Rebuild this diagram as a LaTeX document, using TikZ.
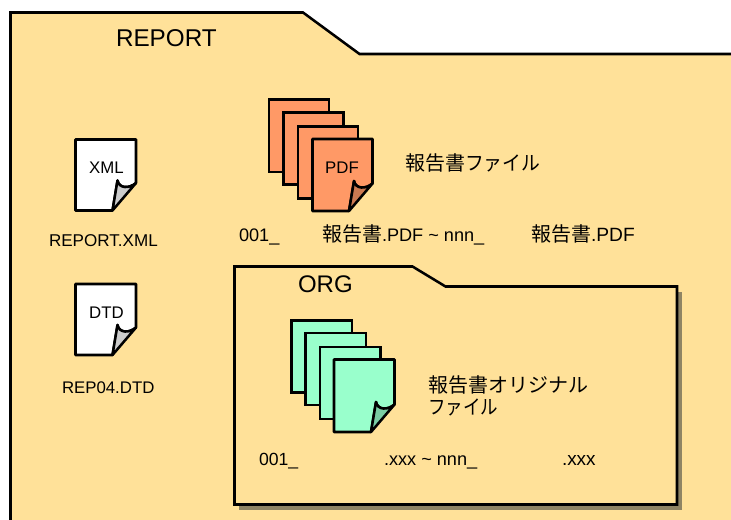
\documentclass[tikz,border=0pt]{standalone}
\usepackage{fontspec}
\setmainfont{Liberation Sans}
\newfontfamily\cjk{Noto Sans CJK JP}
\definecolor{folderfill}{HTML}{FFE199}
\definecolor{pdffill}{HTML}{FF9966}
\definecolor{pdffold}{HTML}{CC7A52}
\definecolor{orgfill}{HTML}{99FFCC}
\definecolor{orgfold}{HTML}{7ACCA3}
\definecolor{docfold}{HTML}{CCCCCC}
\definecolor{shadowc}{HTML}{8F8464}
\tikzset{
  folderline/.style={draw=black,line width=1.9pt,fill=folderfill,line join=miter},
  sheetline/.style={draw=black,line width=1.9pt,line join=round},
  lbl/.style={anchor=base west,inner sep=0pt,outer sep=0pt,text=black},
  big/.style={lbl,font=\fontsize{18.2pt}{20pt}\selectfont},
  mid/.style={lbl,font=\fontsize{13.6pt}{15pt}\selectfont},
  small/.style={lbl,font=\fontsize{12.8pt}{14pt}\selectfont},
  jp/.style={lbl,font=\fontsize{15pt}{16pt}\selectfont},
}
% x1 y1 x2 y2 fill
\newcommand{\plainsheet}[5]{\draw[sheetline,line join=miter,fill=#5] (#1,#2) rectangle (#3,#4);}
% x1 y1 x2 y2 fill foldfill
\newcommand{\curlsheet}[6]{%
  \pgfmathsetmacro{\bx}{#3-23.5}\pgfmathsetmacro{\ry}{#4-27.5}
  \pgfmathsetmacro{\tx}{#3-18.5}\pgfmathsetmacro{\ty}{#4-30}
  \pgfmathsetmacro{\cax}{#3-7}\pgfmathsetmacro{\cay}{#4-21.5}
  \pgfmathsetmacro{\cbx}{#3-17}\pgfmathsetmacro{\cby}{#4-22}
  \draw[sheetline,fill=#5] (#1,#2) -- (#3,#2) -- (#3,\ry)
    .. controls (\cax,\cay) and (\cbx,\cby) .. (\tx,\ty) -- (\bx,#4) -- (#1,#4) -- cycle;
  \draw[sheetline,fill=#6] (#3,\ry)
    .. controls (\cax,\cay) and (\cbx,\cby) .. (\tx,\ty) -- (\bx,#4) -- cycle;
}
\begin{document}
\begin{tikzpicture}[x=0.75pt,y=-0.75pt]
\useasboundingbox (0,0) rectangle (731,520);
\fill[white] (0,0) rectangle (731,520);
% outer folder
\draw[folderline] (10.5,12.5) -- (303,12.5) -- (359.5,54) -- (740,54) -- (740,530) -- (10.5,530) -- cycle;
\node[big] (report) at (116,46.5) {REPORT};
% xml and dtd documents
\curlsheet{75.5}{139.5}{136}{210.5}{white}{docfold}
\node[small,anchor=center,font=\fontsize{12.6pt}{15pt}\selectfont] (xml) at (106.5,168) {XML};
\node[small] (reportxml) at (49,247) {REPORT.XML};
\curlsheet{75.5}{284}{136}{355}{white}{docfold}
\node[small,anchor=center,font=\fontsize{12.6pt}{15pt}\selectfont] (dtd) at (106.5,312.5) {DTD};
\node[small,font=\fontsize{12.6pt}{14pt}\selectfont] (rep04) at (62,393) {REP04.DTD};
% pdf stack
\plainsheet{269}{99.5}{329}{172}{pdffill}
\plainsheet{283.5}{112.5}{343.5}{184.5}{pdffill}
\plainsheet{298}{126.5}{358}{198.5}{pdffill}
\curlsheet{312.5}{139}{372.5}{211}{pdffill}{pdffold}
\node[small,anchor=center,font=\fontsize{12.6pt}{15pt}\selectfont] (pdf) at (342,167.5) {PDF};
\node[jp] (pdflabel) at (405,171) {{\cjk 報告書\scalebox{0.94}[1]{ファイル}}};
\node[mid] (a1) at (239,242) {001\_};
\node[mid] (a2) at (322,242) {{\cjk\fontsize{15pt}{15pt}\selectfont 報告書}.PDF \textasciitilde\ nnn\_};
\node[mid,font=\fontsize{14.4pt}{15pt}\selectfont] (a3) at (531,242) {{\cjk\fontsize{15pt}{15pt}\selectfont 報告書}.PDF};
% org folder
\fill[shadowc] (239,292) -- (682,292) -- (682,510) -- (239,510) -- cycle;
\draw[folderline] (234.5,266.5) -- (412.5,266.5) -- (445.5,286.5) -- (677,286.5) -- (677,504.5) -- (234.5,504.5) -- cycle;
\node[lbl,font=\fontsize{18pt}{20pt}\selectfont] (org) at (298,292) {ORG};
% org stack
\plainsheet{291.5}{320.5}{352}{392.5}{orgfill}
\plainsheet{305.5}{333}{366}{405}{orgfill}
\plainsheet{320}{347}{380.5}{419}{orgfill}
\curlsheet{334}{359.5}{394.5}{432}{orgfill}{orgfold}
\node[jp] (orglabel1) at (428,392) {{\cjk 報告書オリジナル}};
\node[jp] (orglabel2) at (428,414) {\scalebox{0.875}[1]{\cjk ファイル}};
\node[mid,font=\fontsize{13.2pt}{14pt}\selectfont] (b1) at (259,465) {001\_};
\node[mid] (b2) at (384,465) {.xxx \textasciitilde\ nnn\_};
\node[mid,font=\fontsize{14.2pt}{15pt}\selectfont] (b3) at (562,465) {.xxx};
\end{tikzpicture}
\end{document}
